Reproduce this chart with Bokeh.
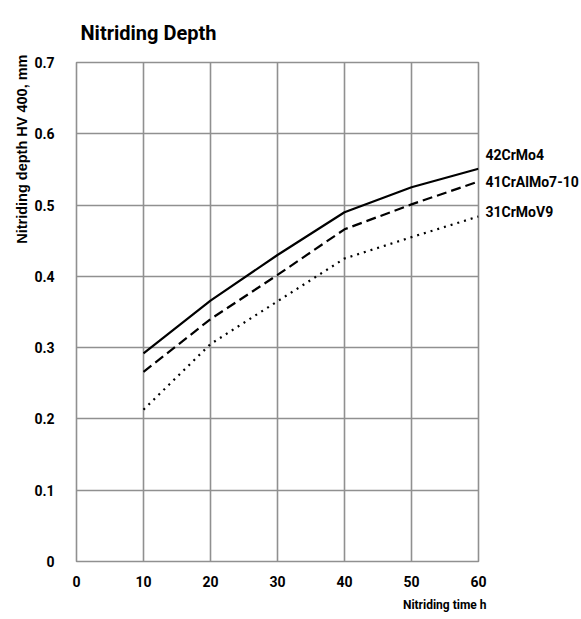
import math
from bokeh.plotting import figure
from bokeh.models import Title, FixedTicker, LinearAxis
from bokeh.embed import file_html
from bokeh.resources import INLINE

# data
hours = [10, 20, 30, 40, 50, 60]
crmo4 = [0.292, 0.366, 0.430, 0.490, 0.525, 0.551]
cralmo = [0.266, 0.340, 0.402, 0.466, 0.501, 0.533]
crmov9 = [0.213, 0.305, 0.365, 0.425, 0.455, 0.484]
series_names = ["42CrMo4", "41CrAlMo7-10", "31CrMoV9"]
x_ticks = [0, 10, 20, 30, 40, 50, 60]
y_ticks = [0, 0.1, 0.2, 0.3, 0.4, 0.5, 0.6, 0.7]

FONT = "Roboto"

p = figure(width=581, height=618, x_range=(0, 60), y_range=(0, 0.7),
           output_backend="svg", toolbar_location=None,
           min_border_left=76, min_border_right=101, min_border_top=61, min_border_bottom=57)
p.title.visible = False
p.outline_line_color = "#909090"
p.outline_line_width = 1.6
p.background_fill_color = "white"
p.border_fill_color = "white"

right_axis = LinearAxis()
p.add_layout(right_axis, "right")

for ax in (p.xaxis[0], p.yaxis[0], right_axis):
    ax.axis_line_color = None
    ax.major_tick_line_color = None
    ax.minor_tick_line_color = None
    ax.major_tick_out = 0
    ax.major_tick_in = 0
    ax.minor_tick_out = 0
    ax.minor_tick_in = 0
    ax.major_label_text_font = FONT
    ax.major_label_text_font_style = "bold"
    ax.major_label_text_font_size = "14px"
    ax.major_label_text_color = "black"

p.xaxis.ticker = FixedTicker(ticks=x_ticks)
p.yaxis[0].ticker = FixedTicker(ticks=y_ticks)
p.yaxis[0].major_label_overrides = {0: "0"}
p.xaxis.major_label_standoff = 14
p.yaxis[0].major_label_standoff = 22

# series names shown on the right, next to the line ends
label_pos = [0.570, 0.532, 0.490]
right_axis.ticker = FixedTicker(ticks=label_pos)
right_axis.major_label_overrides = {v: n for v, n in zip(label_pos, series_names)}
right_axis.major_label_text_font_size = "14px"
right_axis.major_label_standoff = 7

p.xgrid.ticker = FixedTicker(ticks=x_ticks)
p.ygrid.ticker = FixedTicker(ticks=y_ticks)
for g in (p.xgrid, p.ygrid):
    g.grid_line_color = "#909090"
    g.grid_line_width = 1.6

p.line(hours, crmo4, line_color="black", line_width=2.2)
p.line(hours, cralmo, line_color="black", line_width=2.2, line_dash="10 5")
p.line(hours, crmov9, line_color="black", line_width=2.2, line_dash="2 5")

p.add_layout(Title(text="Nitriding time h", align="right", text_font=FONT, text_color="black",
                   text_font_style="bold", text_font_size="12px", offset=-8, standoff=13), "below")

p.add_layout(Title(text="Nitriding depth HV 400, mm", align="right", text_color="black",
                   text_font="Liberation Sans, Arial, DejaVu Sans", text_font_style="bold",
                   text_font_size="14.5px", offset=-8, standoff=4), "left")

p.add_layout(Title(text="Nitriding Depth", align="left", text_font=FONT, text_color="black",
                   text_font_style="bold", text_font_size="20px", offset=4, standoff=36), "above")

open("out.html", "w").write(file_html(p, INLINE))
